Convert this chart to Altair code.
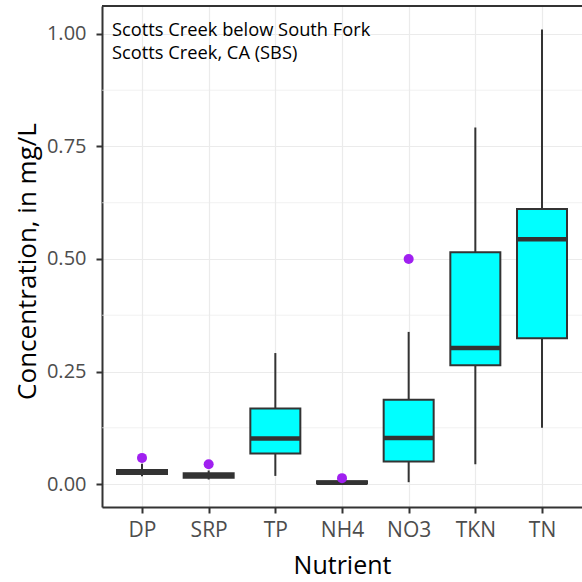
import altair as alt
import pandas as pd

# ---- data ----
nutrients = ["DP", "SRP", "TP", "NH4", "NO3", "TKN", "TN"]
lower = [0.017, 0.010, 0.018, 0.001, 0.004, 0.044, 0.125]
q1 = [0.022, 0.014, 0.068, 0.001, 0.050, 0.264, 0.324]
median = [0.027, 0.019, 0.101, 0.003, 0.102, 0.302, 0.544]
q3 = [0.031, 0.024, 0.168, 0.006, 0.187, 0.515, 0.611]
upper = [0.045, 0.030, 0.291, 0.008, 0.338, 0.792, 1.010]

outlier_nutrient = ["DP", "SRP", "NH4", "NO3"]
outlier_value = [0.058, 0.044, 0.013, 0.500]

y_ticks = [0.0, 0.25, 0.5, 0.75, 1.0]
y_minor = [0.125, 0.375, 0.625, 0.875]
annotation_lines = ["Scotts Creek below South Fork", "Scotts Creek, CA (SBS)"]

FONT = "Open Sans"
W, H = 480, 501

box_df = pd.DataFrame({"Nutrient": nutrients, "lower": lower, "q1": q1,
                       "median": median, "q3": q3, "upper": upper})
out_df = pd.DataFrame({"Nutrient": outlier_nutrient, "value": outlier_value})
minor_df = pd.DataFrame({"v": y_minor})
ann_df = pd.DataFrame({"label": ["\n".join(annotation_lines)]})

x_scale = alt.Scale(type="point", domain=nutrients, padding=0.6)
y_scale = alt.Scale(domain=[-0.0511, 1.0622], nice=False, zero=False)

x_axis = alt.Axis(title="Nutrient", grid=True, labelFont=FONT, labelFontSize=21,
                  labelColor="#4d4d4d", labelAngle=0, labelPadding=6,
                  tickColor="#333333", tickSize=6, tickWidth=2,
                  domainColor="#333333", domainWidth=2, gridColor="#ebebeb", gridWidth=1.2,
                  titleFont=FONT, titleFontSize=25, titleFontWeight="normal", titleColor="black",
                  titleY=66, titleBaseline="alphabetic")
y_axis = alt.Axis(title="Concentration, in mg/L", values=y_ticks, format=".2f",
                  labelFont=FONT, labelFontSize=20, labelColor="#4d4d4d", labelPadding=10,
                  tickColor="#333333", tickSize=6, tickWidth=2,
                  domainColor="#333333", domainWidth=2, gridColor="#ebebeb", gridWidth=1.2,
                  titleFont=FONT, titleFontSize=26, titleFontWeight="normal", titleColor="black",
                  titleX=-67, titleY=255, titleBaseline="alphabetic", titleAngle=-90)

minor = alt.Chart(minor_df).mark_rule(color="#ebebeb", strokeWidth=0.7).encode(
    y=alt.Y("v:Q", scale=y_scale, axis=y_axis),
    x=alt.value(0), x2=alt.value(W))

base = alt.Chart(box_df)
whisk = base.mark_rule(color="#333333", strokeWidth=2).encode(
    x=alt.X("Nutrient:N", scale=x_scale, axis=x_axis),
    y=alt.Y("lower:Q", scale=y_scale), y2="upper:Q")
box = base.mark_bar(size=50, fill="#00FFFF", stroke="#333333", strokeWidth=2).encode(
    x=alt.X("Nutrient:N", scale=x_scale),
    y=alt.Y("q1:Q", scale=y_scale), y2="q3:Q")
med = base.mark_tick(size=50, thickness=4.5, color="#333333", opacity=1).encode(
    x=alt.X("Nutrient:N", scale=x_scale),
    y=alt.Y("median:Q", scale=y_scale))
pts = alt.Chart(out_df).mark_circle(size=100, color="#A020F0", opacity=1).encode(
    x=alt.X("Nutrient:N", scale=x_scale),
    y=alt.Y("value:Q", scale=y_scale))
ann = alt.Chart(ann_df).mark_text(align="left", baseline="alphabetic", font=FONT, fontSize=18.3,
                                  lineBreak="\n", lineHeight=23, color="black").encode(
    text="label:N", x=alt.value(10), y=alt.value(30))
top = alt.Chart(ann_df).mark_rule(color="#333333", strokeWidth=2).encode(
    x=alt.value(0), x2=alt.value(W), y=alt.value(0))

chart = alt.layer(minor, whisk, box, med, pts, ann, top).properties(
    width=W, height=H, autosize="none",
    padding={"left": 102, "top": 6, "right": 0, "bottom": 75},
).configure_view(stroke=None).configure(background="white")

chart.save("out.html", embed_options={"renderer": "svg", "actions": False})
